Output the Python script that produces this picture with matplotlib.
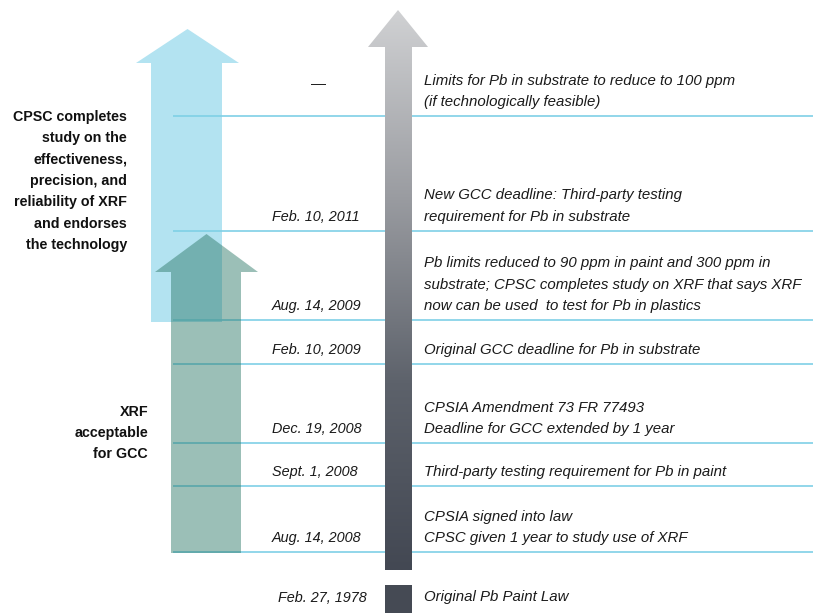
import numpy as np
import matplotlib
matplotlib.use("Agg")
import matplotlib.pyplot as plt
from matplotlib.patches import Polygon, Rectangle
from matplotlib.colors import LinearSegmentedColormap

# ---------------- data ----------------
dates = ["Aug. 14, 2008", "Sept. 1, 2008", "Dec. 19, 2008", "Feb. 10, 2009",
         "Aug. 14, 2009", "Feb. 10, 2011", ""]
events = [
    ["CPSIA signed into law", "CPSC given 1 year to study use of XRF"],
    ["Third-party testing requirement for Pb in paint"],
    ["CPSIA Amendment 73 FR 77493", "Deadline for GCC extended by 1 year"],
    ["Original GCC deadline for Pb in substrate"],
    ["Pb limits reduced to 90 ppm in paint and 300 ppm in",
     "substrate; CPSC completes study on XRF that says XRF",
     "now can be used  to test for Pb in plastics"],
    ["New GCC deadline: Third-party testing", "requirement for Pb in substrate"],
    ["Limits for Pb in substrate to reduce to 100 ppm", "(if technologically feasible)"],
]
base_date = "Feb. 27, 1978"
base_event = "Original Pb Paint Law"
left_note_top = ["CPSC completes", "study on the", "effectiveness,", "precision, and",
                 "reliability of XRF", "and endorses", "the technology"]
left_note_bottom = ["XRF", "acceptable", "for GCC"]

# ---------------- layout ----------------
row_lines = [552, 486, 443, 364, 320, 231, 116]   # separator position of each row
W, H = 813, 613

plt.rcParams['font.family'] = ['Liberation Sans', 'DejaVu Sans']

fig = plt.figure(figsize=(W / 100, H / 100), dpi=100)
ax = fig.add_axes([0, 0, 1, 1])
ax.set_xlim(0, W)
ax.set_ylim(H, 0)
ax.axis("off")

# light blue arrow
blue = "#b3e3f1"
ax.add_patch(Polygon([(151, 322), (151, 63), (136, 63), (187.5, 29), (239, 63),
                      (222, 63), (222, 322)], closed=True, fc=blue, ec="none", zorder=1))

# separator lines
line_col = "#7fd0e6"
for y in row_lines:
    ax.plot([173, W], [y, y], color=line_col, lw=1.2, zorder=2, solid_capstyle="butt")

# green arrow (semi-transparent)
ax.add_patch(Polygon([(171, 553), (171, 272), (155, 272), (206.5, 234), (258, 272),
                      (241, 272), (241, 553)], closed=True, fc="#2f7a69", alpha=0.48,
                     ec="none", zorder=3))

# gray gradient arrow
arrow_pts = [(385, 570), (385, 47), (368, 47), (398, 10), (428, 47), (412, 47), (412, 570)]
poly = Polygon(arrow_pts, closed=True, fc="none", ec="none", zorder=4)
ax.add_patch(poly)
cmap = LinearSegmentedColormap.from_list("g", ["#d0d1d3", "#9a9ca1", "#5d626b", "#434853"])
grad = np.linspace(0, 1, 256).reshape(-1, 1)
im = ax.imshow(grad, cmap=cmap, extent=(368, 428, 570, 10), aspect="auto", zorder=4,
               interpolation="bilinear")
im.set_clip_path(poly)
ax.add_patch(Rectangle((385, 585), 27, 30, fc="#454a54", ec="none", zorder=4))
ax.set_xlim(0, W)
ax.set_ylim(H, 0)

fs = 10.8
fs_date = 10.4
spacing = 21.5
txt_col = "#1a1a1a"
for y, d, ev in zip(row_lines, dates, events):
    yl = y - 14
    if d:
        ax.text(272, yl, d, ha="left", va="center", style="italic", fontsize=fs_date,
                color=txt_col, zorder=5)
    n = len(ev)
    for i, line in enumerate(ev):
        ax.text(424, yl - (n - 1 - i) * spacing, line, ha="left", va="center",
                style="italic", fontsize=fs, color=txt_col, zorder=5)

ax.text(278, 598, base_date, ha="left", va="center", style="italic", fontsize=fs_date,
        color=txt_col, zorder=5)
ax.text(424, 597, base_event, ha="left", va="center", style="italic", fontsize=fs,
        color=txt_col, zorder=5)

ax.text(318, 84, "\u2014", ha="center", va="center", fontsize=fs, color=txt_col)

for i, line in enumerate(left_note_top):
    ax.text(127, 117 + i * 21.3, line, ha="right", va="center", fontweight="bold",
            fontsize=10.3, color="#111111")
for i, line in enumerate(left_note_bottom):
    ax.text(148, 412 + i * 21, line, ha="right", va="center", fontweight="bold",
            fontsize=10.3, color="#111111")

fig.savefig("out.png", dpi=100)
